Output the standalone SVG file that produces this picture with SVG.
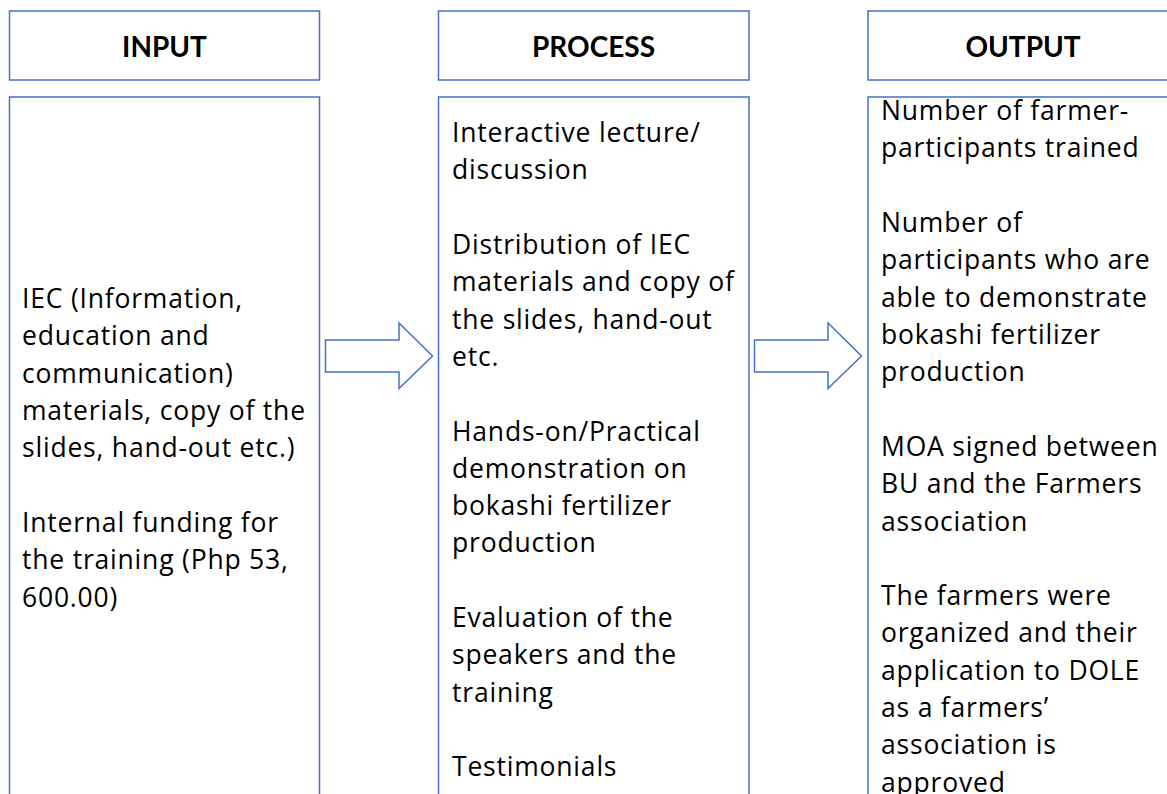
<svg xmlns="http://www.w3.org/2000/svg" width="1167" height="794" viewBox="0 0 1167 794">
<style>
.box{fill:#fff;stroke:#4472C4;stroke-width:1.5}
.arr{fill:#fff;stroke:#4472C4;stroke-width:1.5;stroke-linejoin:miter}
.h{font-family:Lato,"Open Sans",sans-serif;font-weight:bold;font-size:28px;fill:#000;text-anchor:middle}
.t{font-family:"Open Sans",sans-serif;font-size:26.5px;letter-spacing:0.8px;fill:#000}
</style>
<rect width="1167" height="794" fill="#fff"/>
<g id="input-header"><rect class="box" x="9.5" y="11" width="310" height="69"/><text class="h" x="164.5" y="56.5">INPUT</text></g>
<g id="process-header"><rect class="box" x="438.5" y="11" width="310.5" height="69"/><text class="h" x="593.5" y="56.5">PROCESS</text></g>
<g id="output-header"><rect class="box" x="868" y="11" width="310" height="69"/><text class="h" x="1023" y="56.5">OUTPUT</text></g>
<g id="input-body"><rect class="box" x="9.5" y="97" width="310" height="720"/>
<text class="t"><tspan x="22" y="308">IEC (Information,</tspan><tspan x="22" y="345.3">education and</tspan><tspan x="22" y="382.6">communication)</tspan><tspan x="22" y="419.9">materials, copy of the</tspan><tspan x="22" y="457.2">slides, hand-out etc.)</tspan><tspan x="22" y="532">Internal funding for</tspan><tspan x="22" y="569.3">the training (Php 53,</tspan><tspan x="22" y="606.6">600.00)</tspan></text></g>
<g id="process-body"><rect class="box" x="438.5" y="97" width="310.5" height="720"/>
<text class="t"><tspan x="452" y="142">Interactive lecture/</tspan><tspan x="452" y="179.3">discussion</tspan><tspan x="452" y="254">Distribution of IEC</tspan><tspan x="452" y="291.3">materials and copy of</tspan><tspan x="452" y="328.6">the slides, hand-out</tspan><tspan x="452" y="365.9">etc.</tspan><tspan x="452" y="440.5">Hands-on/Practical</tspan><tspan x="452" y="477.8">demonstration on</tspan><tspan x="452" y="515.1">bokashi fertilizer</tspan><tspan x="452" y="552.4">production</tspan><tspan x="452" y="627">Evaluation of the</tspan><tspan x="452" y="664.3">speakers and the</tspan><tspan x="452" y="701.6">training</tspan><tspan x="452" y="776">Testimonials</tspan></text></g>
<g id="output-body"><rect class="box" x="868" y="97" width="310" height="720"/>
<text class="t"><tspan x="881" y="120">Number of farmer-</tspan><tspan x="881" y="157.3">participants trained</tspan><tspan x="881" y="232">Number of</tspan><tspan x="881" y="269.3">participants who are</tspan><tspan x="881" y="306.6">able to demonstrate</tspan><tspan x="881" y="343.9">bokashi fertilizer</tspan><tspan x="881" y="381.2">production</tspan><tspan x="881" y="456">MOA signed between</tspan><tspan x="881" y="493.3">BU and the Farmers</tspan><tspan x="881" y="530.6">association</tspan><tspan x="881" y="605">The farmers were</tspan><tspan x="881" y="642.3">organized and their</tspan><tspan x="881" y="679.6">application to DOLE</tspan><tspan x="881" y="716.9">as a farmers’</tspan><tspan x="881" y="754.2">association is</tspan><tspan x="881" y="791.5">approved</tspan></text></g>
<g id="connectors">
<polygon class="arr" points="325.5,340 399,340 399,323 432.5,356 399,388.5 399,372 325.5,372"/>
<polygon class="arr" points="754.5,340 828,340 828,323 861.5,356 828,388.5 828,372 754.5,372"/>
</g>
</svg>
